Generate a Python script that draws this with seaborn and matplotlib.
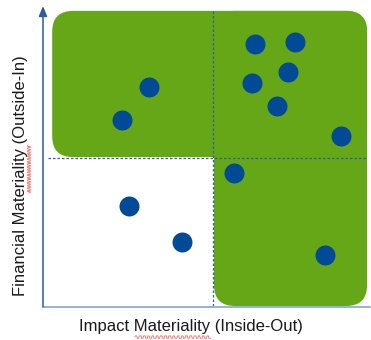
import matplotlib
matplotlib.use("Agg")
import matplotlib.pyplot as plt
from matplotlib.patches import FancyBboxPatch
import numpy as np
import pandas as pd
import seaborn as sns

# Topics positioned by impact (x) and financial (y) materiality, 0-10 scale
impact = [6.48, 7.71, 7.49, 6.39, 7.16, 3.24, 2.42, 9.11, 5.84, 2.63, 4.25, 8.62]
financial = [8.76, 8.83, 7.83, 7.46, 6.69, 7.32, 6.22, 5.69, 4.45, 3.34, 2.14, 1.71]

# Materiality thresholds splitting the quadrants
impact_threshold = 5.20
financial_threshold = 4.95

x_label = "Impact Materiality (Inside-Out)"
y_label = "Financial Materiality (Outside-In)"

df = pd.DataFrame({"impact": impact, "financial": financial})

sns.set_style("white")
plt.rcParams["font.family"] = ["Liberation Sans", "DejaVu Sans"]

GREEN = "#65A717"
DOT = "#004A96"
LINE = "#4F7BC4"

fig = plt.figure(figsize=(3.71, 3.40), dpi=100)
ax = fig.add_axes([43 / 371, 34 / 340, 327 / 371, 299 / 340])
ax.set_xlim(0, 10)
ax.set_ylim(0, 10)

# Material area: the upper band plus the right-hand column
r = 0.64
top = 9.87
right = 9.91
band = FancyBboxPatch((0.28, financial_threshold + 0.03), right - 0.28, top - financial_threshold - 0.03,
                      boxstyle=f"round,pad=0,rounding_size={r}", mutation_aspect=1.094,
                      facecolor=GREEN, edgecolor="none", zorder=1)
column = FancyBboxPatch((impact_threshold + 0.03, 0), right - impact_threshold - 0.03, top,
                        boxstyle=f"round,pad=0,rounding_size={r}", mutation_aspect=1.094,
                        facecolor=GREEN, edgecolor="none", zorder=1)
ax.add_patch(band)
ax.add_patch(column)

# Threshold lines
ax.plot([impact_threshold, impact_threshold], [0, top], color="#2F5FA8", lw=0.9,
        dashes=(2, 1.6), zorder=2)
ax.plot([0.15, right], [financial_threshold, financial_threshold], color="#2F5FA8", lw=0.9,
        dashes=(2, 1.6), zorder=2)

sns.scatterplot(data=df, x="impact", y="financial", ax=ax, s=207, color=DOT,
                linewidth=0, zorder=3, clip_on=False)

# Axes drawn as arrows
for s in ax.spines.values():
    s.set_visible(False)
ax.annotate("", xy=(0, 10.03), xytext=(0, -0.03),
            arrowprops=dict(arrowstyle="-|>,head_length=0.6,head_width=0.25",
                            color="#2E5AA6", lw=1.1, shrinkA=0, shrinkB=0),
            annotation_clip=False)
ax.plot([0, 10], [-0.03, -0.03], color="#8EAADB", lw=1.3, clip_on=False, zorder=2)

ax.set_xticks([])
ax.set_yticks([])
ax.set_xlabel("")
ax.set_ylabel("")

ax.text(0.453, -0.070, x_label, transform=ax.transAxes, ha="center", va="center",
        fontsize=12, color="#1a1a1a")
ax.text(-0.070, 0.436, y_label, transform=ax.transAxes, ha="center", va="center",
        rotation=90, fontsize=12, color="#1a1a1a")

# Spell-check squiggles under the word "Materiality"
t = np.linspace(0, 1, 160)
wave = 0.004 * np.sign(np.sin(t * 2 * np.pi * 18))
ax.plot(0.281 + t * 0.232, -0.104 + wave, transform=ax.transAxes, color="#E8463C",
        lw=0.6, alpha=0.8, clip_on=False)
ax.plot(-0.043 + wave * 1.0, 0.378 + t * 0.16, transform=ax.transAxes, color="#E8463C",
        lw=0.6, alpha=0.8, clip_on=False)

fig.savefig("out.png", dpi=100)
